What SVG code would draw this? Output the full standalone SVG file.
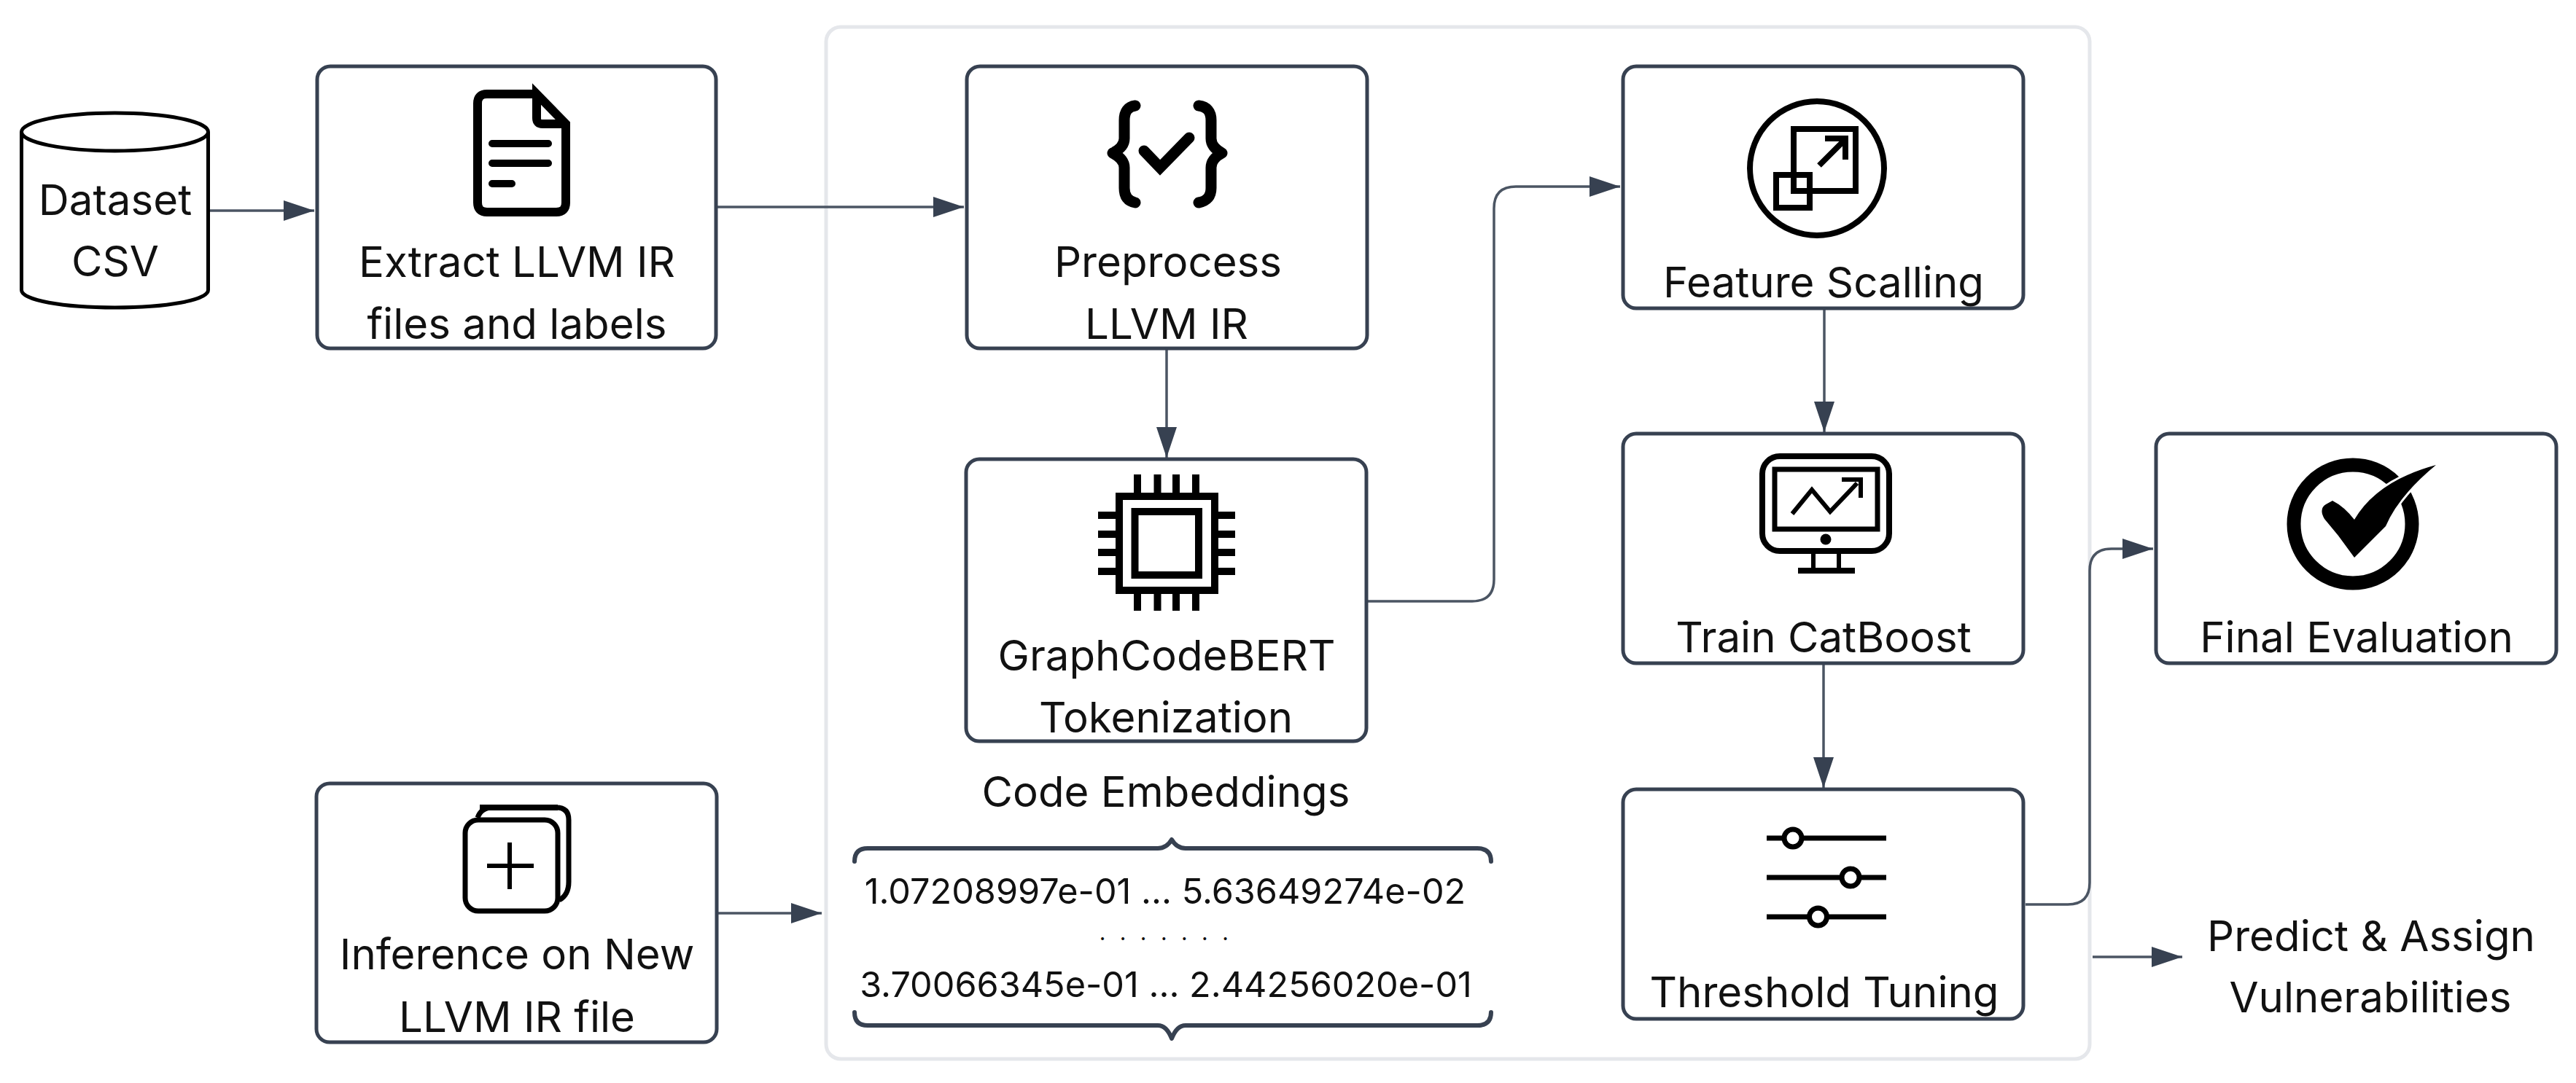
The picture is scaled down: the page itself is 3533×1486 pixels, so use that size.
<svg xmlns="http://www.w3.org/2000/svg" width="3533" height="1486" viewBox="0 0 3533 1486">
<style>
.box{fill:#fff;stroke:#374151;stroke-width:5}
.t{font-family:Inter,"Liberation Sans",sans-serif;font-size:58.200px;fill:#111;text-anchor:middle}
.n{font-family:Inter,"Liberation Sans",sans-serif;font-size:48.600px;fill:#111;text-anchor:middle}
.d{font-family:Inter,"Liberation Sans",sans-serif;font-size:30px;letter-spacing:5.500px;fill:#111;text-anchor:middle}
.c{fill:none;stroke:#4b5563;stroke-width:3.5}
.i{fill:none;stroke:#000}
.k{fill:#fff;stroke:#000;stroke-width:7}
.b{fill:none;stroke:#374151;stroke-width:6;stroke-linecap:round;stroke-linejoin:round}
</style>
<defs>
<marker id="a" markerUnits="userSpaceOnUse" markerWidth="42" markerHeight="28" refX="42" refY="14" orient="auto"><path d="M0 0L42 14L0 28Z" fill="#374151"/></marker>
</defs>
<rect width="3533" height="1486" fill="#fff"/>
<rect id="container" x="1133" y="37" width="1733" height="1416" rx="20" fill="#fff" stroke="#e5e7eb" stroke-width="5"/>
<g id="connectors">
<path class="c" marker-end="url(#a)" d="M288 289H431"/>
<path class="c" marker-end="url(#a)" d="M984 284H1322"/>
<path class="c" marker-end="url(#a)" d="M1600 479V628"/>
<path class="c" marker-end="url(#a)" d="M1876 825H2019Q2049 825 2049 795V286Q2049 256 2079 256H2222"/>
<path class="c" marker-end="url(#a)" d="M2502 424V593"/>
<path class="c" marker-end="url(#a)" d="M2501 911V1081"/>
<path class="c" marker-end="url(#a)" d="M2778 1241H2836Q2866 1241 2866 1211V783Q2866 753 2896 753H2953"/>
<path class="c" marker-end="url(#a)" d="M985 1253H1127"/>
<path class="c" marker-end="url(#a)" d="M2870 1313H2993"/>
</g>
<g id="dataset">
<path d="M29.5 181V398C29.5 412 87 422 157.500 422S285.500 412 285.500 398V181" fill="#fff" stroke="#000" stroke-width="5"/>
<ellipse cx="157.500" cy="181" rx="128" ry="26" fill="#fff" stroke="#000" stroke-width="5"/>
<text class="t" x="158" y="295">Dataset</text>
<text class="t" x="158" y="379">CSV</text>
</g>
<g id="extract">
<rect class="box" x="435" y="91" width="547" height="387" rx="18"/>
<path class="i" stroke-width="12" d="M736 129H668Q655 129 655 142V278Q655 291 668 291H763Q776 291 776 278V170L736 129V162Q736 170 744 170H776"/>
<path class="i" stroke-width="10" stroke-linecap="round" d="M675 197H752M675 224H752M675 252H702"/>
<text class="t" x="709" y="380">Extract LLVM IR</text>
<text class="t" x="709" y="465">files and labels</text>
</g>
<g id="preprocess">
<rect class="box" x="1326" y="91" width="549" height="387" rx="18"/>
<path class="i" stroke-width="15" stroke-linecap="round" stroke-linejoin="round" d="M1557 145Q1542 147 1542 165V190Q1542 202 1526 210Q1542 218 1542 230V258Q1542 275 1557 278M1644 145Q1661 147 1661 165V190Q1661 202 1676 210Q1661 218 1661 230V258Q1661 275 1644 278"/>
<path class="i" stroke-width="15" stroke-linecap="round" d="M1569 207L1591 230L1631 189"/>
<text class="t" x="1602" y="380">Preprocess</text>
<text class="t" x="1600" y="465">LLVM IR</text>
</g>
<g id="tokenization">
<rect class="box" x="1325" y="630" width="549" height="387" rx="18"/>
<rect class="i" stroke-width="10" x="1535" y="681" width="131" height="129"/>
<rect class="i" stroke-width="10" x="1556.500" y="702" width="87.500" height="87"/>
<path class="i" stroke-width="10" d="M1560 651V676M1587.500 651V676M1613 651V676M1640 651V676M1560 815V838M1587.500 815V838M1613 815V838M1640 815V838M1506 707H1530M1506 733H1530M1506 758H1530M1506 784H1530M1671 707H1694M1671 733H1694M1671 758H1694M1671 784H1694"/>
<text class="t" x="1600" y="920">GraphCodeBERT</text>
<text class="t" x="1599" y="1005">Tokenization</text>
</g>
<g id="embeddings">
<text class="t" x="1599" y="1107">Code Embeddings</text>
<path class="b" d="M1172 1182Q1172 1164 1190 1164H1588Q1600 1164 1607 1152Q1614 1164 1626 1164H2026Q2045 1164 2045 1182"/>
<text class="n" x="1598" y="1240">1.07208997e-01 ... 5.63649274e-02</text>
<text class="d" x="1599" y="1290">. . . . . . .</text>
<text class="n" x="1599" y="1368">3.70066345e-01 ... 2.44256020e-01</text>
<path class="b" d="M1172 1389Q1172 1407 1190 1407H1588Q1600 1407 1607 1425Q1614 1407 1626 1407H2026Q2045 1407 2045 1389"/>
</g>
<g id="feature">
<rect class="box" x="2226" y="91" width="549" height="332" rx="18"/>
<circle class="i" stroke-width="8" cx="2492" cy="231" r="92"/>
<rect class="i" stroke-width="8" x="2460" y="177" width="85" height="85"/>
<rect class="i" stroke-width="8" x="2436" y="240" width="46" height="45"/>
<path class="i" stroke-width="8" d="M2495 227L2530 192M2503 190H2531V219"/>
<text class="t" x="2501" y="408">Feature Scalling</text>
</g>
<g id="train">
<rect class="box" x="2226" y="595" width="549" height="315" rx="18"/>
<rect class="i" stroke-width="8" x="2417" y="626" width="174" height="130" rx="24"/>
<rect class="i" stroke-width="7" x="2434" y="644" width="141" height="82"/>
<path class="i" stroke-width="6" d="M2458 705L2485 672L2510 702L2547 663M2526 658H2552V683"/>
<circle cx="2504" cy="740" r="7.500"/>
<path class="i" stroke-width="6" d="M2487 760V782M2522 760V782"/>
<rect x="2466" y="779" width="78" height="8"/>
<text class="t" x="2501" y="895">Train CatBoost</text>
</g>
<g id="threshold">
<rect class="box" x="2226" y="1083" width="549" height="315" rx="18"/>
<path class="i" stroke-width="7" d="M2423 1150H2587M2423 1204H2587M2423 1258H2587"/>
<circle class="k" cx="2459" cy="1150" r="12"/>
<circle class="k" cx="2538" cy="1204" r="12"/>
<circle class="k" cx="2493.500" cy="1258" r="12"/>
<text class="t" x="2502" y="1382">Threshold Tuning</text>
</g>
<g id="final">
<rect class="box" x="2957" y="595" width="549" height="315" rx="18"/>
<circle class="i" stroke-width="19" cx="3227" cy="719" r="81"/>
<path d="M3341 638Q3290 680 3272 722L3229 765L3207 735L3188 712Q3180 698 3190 692L3199 687Q3215 695 3229 713Q3260 660 3341 638Z" fill="#000" stroke="#fff" stroke-width="6" paint-order="stroke"/>
<text class="t" x="3232" y="895">Final Evaluation</text>
</g>
<g id="inference">
<rect class="box" x="434" y="1075" width="549" height="355" rx="18"/>
<path class="i" stroke-width="7" d="M655 1122Q660 1108 675 1108H763Q780 1108 780 1125V1210Q780 1228 767 1235"/>
<path d="M658 1104H765V1112H658Z"/>
<rect class="i" stroke-width="7" x="638" y="1125" width="127" height="125" rx="18"/>
<path class="i" stroke-width="6" d="M668 1188H732M699 1156V1220"/>
<text class="t" x="709" y="1330">Inference on New</text>
<text class="t" x="709" y="1416">LLVM IR file</text>
</g>
<g id="predict">
<text class="t" x="3252" y="1305">Predict &amp; Assign</text>
<text class="t" x="3251" y="1389">Vulnerabilities</text>
</g>
</svg>
